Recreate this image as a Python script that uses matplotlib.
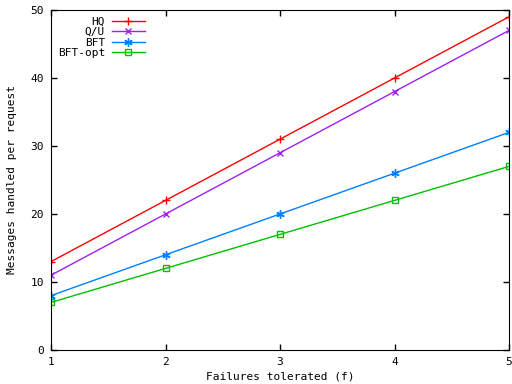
import matplotlib
matplotlib.use('Agg')
from matplotlib import pyplot as plt

f_vals = [1, 2, 3, 4, 5]
hq = [13, 22, 31, 40, 49]
qu = [11, 20, 29, 38, 47]
bft = [8, 14, 20, 26, 32]
bft_opt = [7, 12, 17, 22, 27]

plt.rcParams['font.family'] = 'DejaVu Sans Mono'
plt.rcParams['font.size'] = 8

fig = plt.figure(figsize=(5.12, 3.84), dpi=100)
ax = fig.add_axes([51/512, 34/384, 458/512, 340/384])

ax.plot(f_vals, hq, color='#ff0000', marker='+', ms=6, lw=1, label='HQ')
ax.plot(f_vals, qu, color='#a020f0', marker='x', ms=5, lw=1, label='Q/U')
ax.plot(f_vals, bft, color='#0080ff', marker=(6, 2, 0), ms=6, lw=1, label='BFT')
ax.plot(f_vals, bft_opt, color='#00c000', marker='s', ms=5, mfc='none', lw=1, label='BFT-opt')

ax.set_xlim(1, 5)
ax.set_ylim(0, 50)
ax.set_xticks(f_vals)
ax.set_yticks([0, 10, 20, 30, 40, 50])
ax.tick_params(direction='in', top=True, right=True, length=4, width=1, pad=5)
ax.set_xlabel('Failures tolerated (f)', labelpad=3)
ax.set_ylabel('Messages handled per request', labelpad=10)
ax.legend(loc='upper left', frameon=False, markerfirst=False, handlelength=3.0,
          handletextpad=0.6, labelspacing=0.05, borderaxespad=0.2)

fig.savefig('out.png')
